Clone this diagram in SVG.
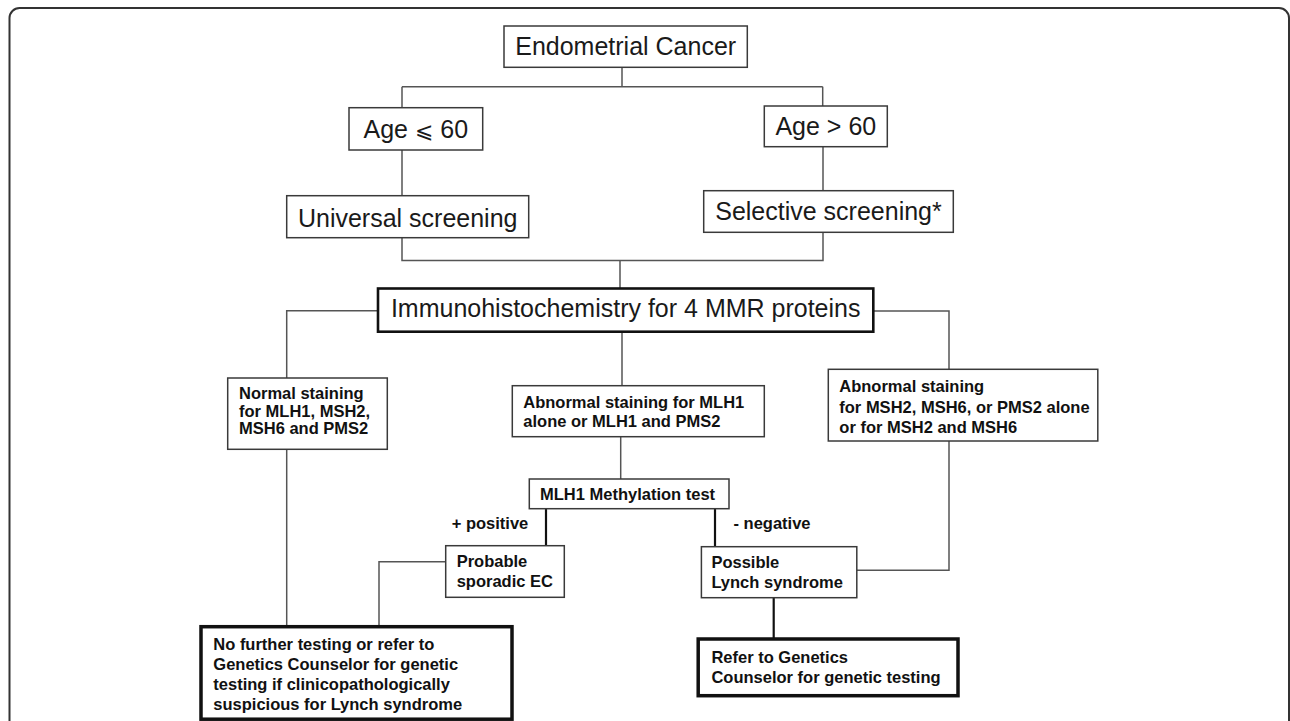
<svg xmlns="http://www.w3.org/2000/svg" width="1290" height="721" viewBox="0 0 1290 721">
<style>
.box{fill:#fff;stroke:#3a3a3a;stroke-width:1.5}
.thick{fill:#fff;stroke:#111;stroke-width:2.6}
.heavy{fill:#fff;stroke:#111;stroke-width:3.5}
.big{font-family:"Liberation Sans",Arial,sans-serif;font-size:25px;fill:#1a1a1a;text-anchor:middle}
.sm{font-family:"Liberation Sans",Arial,sans-serif;font-size:16.5px;font-weight:bold;fill:#111}
.con{fill:none;stroke:#555;stroke-width:1.5}
.conb{fill:none;stroke:#111;stroke-width:2.2}
</style>
<rect x="0" y="0" width="1290" height="721" fill="#fff"/>
<path d="M9.5,721 V18 A10,10 0 0 1 19.5,8 H1279 A10,10 0 0 1 1289,18 V721" fill="none" stroke="#333" stroke-width="2"/>
<g id="connectors">
<path class="con" d="M622,67.3 V86.7"/>
<path class="con" d="M402,86.7 H822.7"/>
<path class="con" d="M402,86.7 V107.7"/>
<path class="con" d="M822.7,86.7 V106"/>
<path class="con" d="M402,150 V195.7"/>
<path class="con" d="M823,146.7 V190.7"/>
<path class="con" d="M402,237.7 V260.5 H823 V232.3"/>
<path class="con" d="M620,260.5 V288.5"/>
<path class="con" d="M378,310.7 H286.7 V378"/>
<path class="con" d="M873.3,311 H949 V369.3"/>
<path class="con" d="M622,331.7 V385.7"/>
<path class="con" d="M286.7,449.3 V626.7"/>
<path class="con" d="M620.7,436.7 V479"/>
<path class="conb" d="M546,508.7 V545.7"/>
<path class="conb" d="M715,508.7 V546.7"/>
<path class="con" d="M445.7,561.7 H379 V626.7"/>
<path class="con" d="M949,441 V570.3 H856.8"/>
<path class="conb" d="M773.7,597.7 V639"/>
</g>
<g id="endometrial">
<rect class="box" x="504" y="26" width="243.3" height="41.3"/>
<text class="big" x="625.7" y="55">Endometrial Cancer</text>
</g>
<g id="age-le-60">
<rect class="box" x="349" y="107.7" width="133.7" height="42.3"/>
<text class="big" x="415.8" y="138.3">Age <tspan font-family="'DejaVu Sans',sans-serif" font-size="22">⩽</tspan> 60</text>
</g>
<g id="age-gt-60">
<rect class="box" x="764.3" y="106" width="123" height="40.7"/>
<text class="big" x="825.8" y="134.5">Age &gt; 60</text>
</g>
<g id="universal">
<rect class="box" x="286.7" y="195.7" width="242" height="42"/>
<text class="big" x="407.7" y="226.7">Universal screening</text>
</g>
<g id="selective">
<rect class="box" x="703.7" y="190.7" width="249.6" height="41.6"/>
<text class="big" x="828.5" y="220">Selective screening*</text>
</g>
<g id="ihc">
<rect class="thick" x="378" y="288.5" width="495.3" height="43.2"/>
<text class="big" x="625.7" y="317">Immunohistochemistry for 4 MMR proteins</text>
</g>
<g id="normal">
<rect class="box" x="227.7" y="378" width="159.6" height="71.3"/>
<text class="sm"><tspan x="239" y="399">Normal staining</tspan><tspan x="239" y="416.5">for MLH1, MSH2,</tspan><tspan x="239" y="434">MSH6 and PMS2</tspan></text>
</g>
<g id="abnormal-mlh1">
<rect class="box" x="512.3" y="385.7" width="252" height="51"/>
<text class="sm"><tspan x="523.3" y="407.7">Abnormal staining for MLH1</tspan><tspan x="523.3" y="426.7">alone or MLH1 and PMS2</tspan></text>
</g>
<g id="abnormal-msh">
<rect class="box" x="828.3" y="369.3" width="269.5" height="71.7"/>
<text class="sm"><tspan x="839.3" y="392">Abnormal staining</tspan><tspan x="839.3" y="412.5">for MSH2, MSH6, or PMS2 alone</tspan><tspan x="839.3" y="432.5">or for MSH2 and MSH6</tspan></text>
</g>
<g id="methylation">
<rect class="box" x="529.3" y="479" width="199.7" height="29.7"/>
<text class="sm" x="540" y="499.5">MLH1 Methylation test</text>
</g>
<g id="labels">
<text class="sm" x="451.7" y="529">+ positive</text>
<text class="sm" x="733.5" y="529">- negative</text>
</g>
<g id="probable">
<rect class="box" x="445.7" y="545.7" width="118.6" height="51.6"/>
<text class="sm"><tspan x="456.7" y="567">Probable</tspan><tspan x="456.7" y="587">sporadic EC</tspan></text>
</g>
<g id="possible">
<rect class="box" x="701.4" y="546.7" width="155.4" height="51"/>
<text class="sm"><tspan x="711.4" y="568">Possible</tspan><tspan x="711.4" y="588">Lynch syndrome</tspan></text>
</g>
<g id="no-further">
<rect class="heavy" x="201" y="626.7" width="311" height="92.5"/>
<text class="sm"><tspan x="213.3" y="650">No further testing or refer to</tspan><tspan x="213.3" y="670">Genetics Counselor for genetic</tspan><tspan x="213.3" y="690">testing if clinicopathologically</tspan><tspan x="213.3" y="710">suspicious for Lynch syndrome</tspan></text>
</g>
<g id="refer">
<rect class="heavy" x="698.2" y="639" width="259.8" height="56.7" stroke-width="4"/>
<text class="sm"><tspan x="711.4" y="662.5">Refer to Genetics</tspan><tspan x="711.4" y="683">Counselor for genetic testing</tspan></text>
</g>
</svg>
